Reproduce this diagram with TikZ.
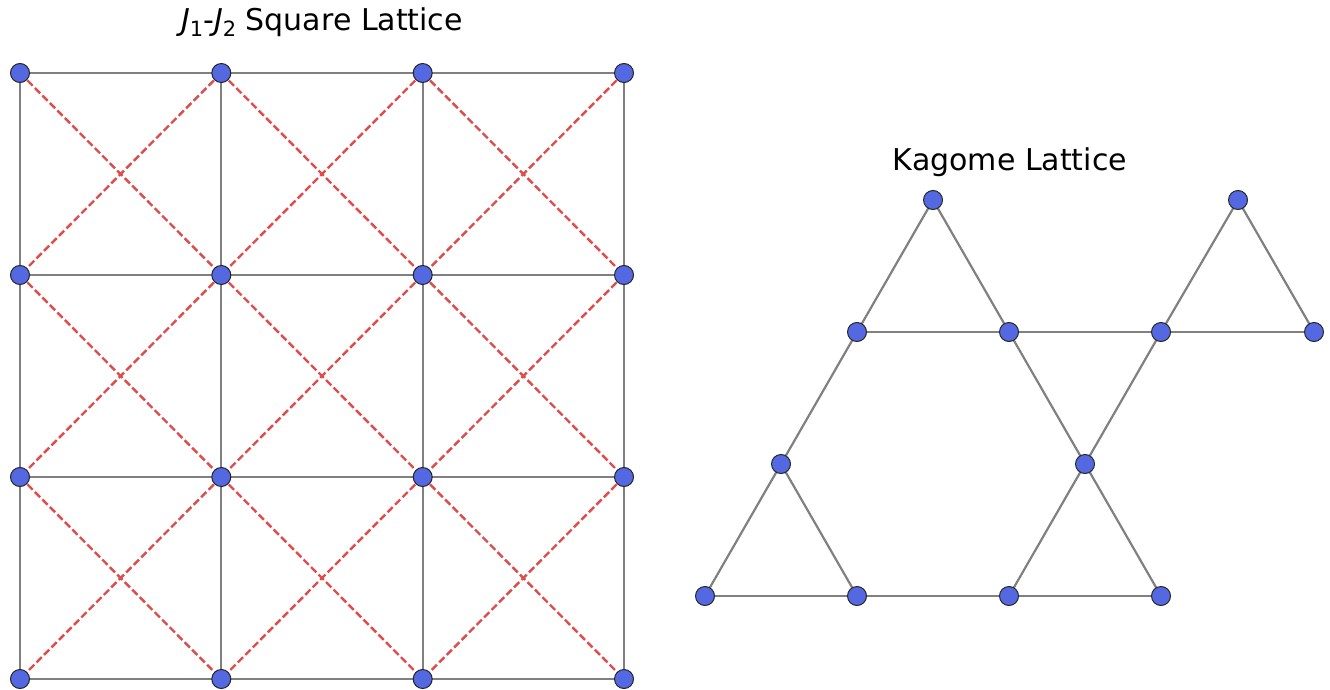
\documentclass[tikz,border=0pt]{standalone}
\usepackage{fontspec}
\setmainfont{DejaVu Sans}
\definecolor{nodeblue}{HTML}{5468E2}
\definecolor{edgegray}{HTML}{808080}
\definecolor{dashred}{HTML}{E04B4B}
\tikzset{
  site/.style={circle, draw=black!85, line width=1pt, fill=nodeblue, minimum size=19pt, inner sep=0pt},
  bond/.style={draw=edgegray, line width=2.2pt},
  jtwo/.style={draw=dashred, line width=2.4pt, dash pattern=on 7.4pt off 3.2pt},
  ttl/.style={font=\fontsize{30}{34}\selectfont, text=black}
}
\begin{document}
\begin{tikzpicture}[x=1pt,y=-1pt]
\useasboundingbox (0,0) rectangle (1330,690);
% square lattice coordinates
\foreach \i/\x in {0/20,1/221.3,2/422.7,3/624}{
  \foreach \j/\y in {0/73,1/275,2/477,3/679}{
    \coordinate (s\i\j) at (\x,\y);
  }
}
% J2 diagonals
\foreach \i [evaluate=\i as \ip using int(\i+1)] in {0,1,2}{
  \foreach \j [evaluate=\j as \jp using int(\j+1)] in {0,1,2}{
    \draw[jtwo] (s\i\j) -- (s\ip\jp);
    \draw[jtwo] (s\ip\j) -- (s\i\jp);
  }
}
% J1 bonds
\foreach \i [evaluate=\i as \ip using int(\i+1)] in {0,1,2}{
  \foreach \j in {0,1,2,3}{
    \draw[bond] (s\i\j) -- (s\ip\j);
    \draw[bond] (s\j\i) -- (s\j\ip);
  }
}
\foreach \i in {0,1,2,3}{
  \foreach \j in {0,1,2,3}{
    \node[site] (n\i\j) at (s\i\j) {};
  }
}
\node[ttl] (t1) at (322,22) {\textit{J}\raisebox{-0.22em}{\fontsize{21}{21}\selectfont 1}-\textit{J}\raisebox{-0.22em}{\fontsize{21}{21}\selectfont 2} Square Lattice};
% Kagome
\coordinate (a) at (933,200);
\coordinate (b) at (1238,200);
\coordinate (c) at (857,332);
\coordinate (d) at (1009,332);
\coordinate (e) at (1161,332);
\coordinate (f) at (1314,332);
\coordinate (g) at (781,464);
\coordinate (h) at (1085,464);
\coordinate (k) at (705,596);
\coordinate (l) at (857,596);
\coordinate (m) at (1009,596);
\coordinate (o) at (1161,596);
\foreach \p/\q in {a/c,a/d,c/d,d/e,e/f,b/e,b/f,c/g,d/h,e/h,g/k,g/l,k/l,l/m,m/o,h/m,h/o}{
  \draw[bond] (\p) -- (\q);
}
\foreach \p in {a,b,c,d,e,f,g,h,k,l,m,o}{
  \node[site] (K\p) at (\p) {};
}
\node[ttl] (t2) at (1010,162) {Kagome Lattice};
\end{tikzpicture}
\end{document}
